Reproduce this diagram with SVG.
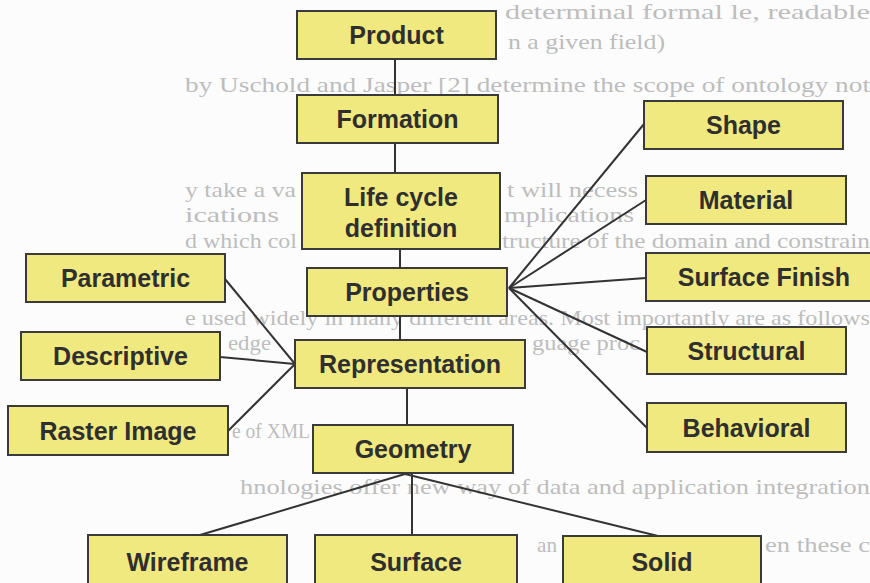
<svg xmlns="http://www.w3.org/2000/svg" width="870" height="583" viewBox="0 0 870 583">
  <style>
    .page { font-family: "Liberation Serif", "DejaVu Serif", serif; font-size: 21px; fill: #bdbdbd; }
    .box { fill: #f0e97f; stroke: #3a3a3a; stroke-width: 2; }
    .label { font-family: "Liberation Sans", Arial, sans-serif; font-weight: bold; font-size: 25px; fill: #2f2f2f; text-anchor: middle; }
    .link { stroke: #333333; stroke-width: 2; fill: none; }
  </style>

  <rect width="870" height="583" fill="#fcfcfc"/>

  <!-- printed page text showing between the chart boxes -->
  <g id="page-text" class="page" lengthAdjust="spacingAndGlyphs">
    <text x="505" y="19" textLength="365" lengthAdjust="spacingAndGlyphs">determinal formal le, readable</text>
    <text x="508" y="49" textLength="157" lengthAdjust="spacingAndGlyphs">n a given field)</text>
    <text x="185" y="92" textLength="685" lengthAdjust="spacingAndGlyphs">by Uschold and Jasper [2] determine the scope of ontology not</text>
    <text x="185" y="197" textLength="111" lengthAdjust="spacingAndGlyphs">y take a va</text>
    <text x="507" y="197" textLength="131" lengthAdjust="spacingAndGlyphs">t will necess</text>
    <text x="185" y="222" textLength="94" lengthAdjust="spacingAndGlyphs">ications</text>
    <text x="504" y="222" textLength="130" lengthAdjust="spacingAndGlyphs">mplications</text>
    <text x="185" y="248" textLength="112" lengthAdjust="spacingAndGlyphs">d which col</text>
    <text x="502" y="248" textLength="368" lengthAdjust="spacingAndGlyphs">tructure of the domain and constrain</text>
    <text x="185" y="325" textLength="685" lengthAdjust="spacingAndGlyphs">e used widely in many different areas. Most importantly are as follows</text>
    <text x="228" y="350" textLength="43" lengthAdjust="spacingAndGlyphs">edge</text>
    <text x="532" y="350" textLength="108" lengthAdjust="spacingAndGlyphs">guage proc</text>
    <text x="232" y="438" textLength="78" lengthAdjust="spacingAndGlyphs">e of XML</text>
    <text x="240" y="494" textLength="630" lengthAdjust="spacingAndGlyphs">hnologies offer new way of data and application integration</text>
    <text x="537" y="552" textLength="20" lengthAdjust="spacingAndGlyphs">an</text>
    <text x="765" y="552" textLength="105" lengthAdjust="spacingAndGlyphs">en these c</text>
  </g>

  <!-- connectors -->
  <g id="connectors" class="link">
    <line x1="395" y1="59" x2="395" y2="95"/>
    <line x1="395" y1="143" x2="395" y2="173"/>
    <line x1="400" y1="249" x2="400" y2="268"/>
    <line x1="400" y1="316" x2="400" y2="340"/>
    <line x1="407" y1="388" x2="407" y2="425"/>
    <!-- properties fan -->
    <line x1="509" y1="288" x2="644" y2="124"/>
    <line x1="509" y1="288" x2="646" y2="200"/>
    <line x1="509" y1="288" x2="646" y2="278"/>
    <line x1="509" y1="288" x2="647" y2="352"/>
    <line x1="509" y1="288" x2="647" y2="428"/>
    <!-- representation fan -->
    <line x1="295" y1="364" x2="225" y2="279"/>
    <line x1="295" y1="364" x2="220" y2="357"/>
    <line x1="295" y1="364" x2="228" y2="431"/>
    <!-- geometry fan -->
    <line x1="405" y1="474" x2="200" y2="535"/>
    <line x1="412" y1="473" x2="412" y2="535"/>
    <line x1="405" y1="474" x2="658" y2="536"/>
  </g>

  <g id="product"><rect class="box" x="297" y="11" width="199" height="48"/><text class="label" x="396.5" y="44">Product</text></g>
  <g id="formation"><rect class="box" x="297" y="95" width="201" height="48"/><text class="label" x="397.5" y="128">Formation</text></g>
  <g id="shape"><rect class="box" x="644" y="101" width="199" height="48"/><text class="label" x="743.5" y="134">Shape</text></g>
  <g id="life-cycle"><rect class="box" x="302" y="173" width="198" height="76"/><text class="label" x="401" y="206">Life cycle</text><text class="label" x="401" y="237">definition</text></g>
  <g id="material"><rect class="box" x="646" y="176" width="200" height="48"/><text class="label" x="746" y="209">Material</text></g>
  <g id="parametric"><rect class="box" x="26" y="254" width="199" height="48"/><text class="label" x="125.5" y="287">Parametric</text></g>
  <g id="properties"><rect class="box" x="307" y="268" width="200" height="48"/><text class="label" x="407" y="301">Properties</text></g>
  <g id="surface-finish"><rect class="box" x="646" y="253" width="234" height="48"/><text class="label" x="764" y="286">Surface Finish</text></g>
  <g id="descriptive"><rect class="box" x="21" y="332" width="199" height="48"/><text class="label" x="120.5" y="365">Descriptive</text></g>
  <g id="representation"><rect class="box" x="295" y="340" width="230" height="48"/><text class="label" x="410" y="373">Representation</text></g>
  <g id="structural"><rect class="box" x="647" y="327" width="199" height="47"/><text class="label" x="746.5" y="359.5">Structural</text></g>
  <g id="raster-image"><rect class="box" x="8" y="406" width="220" height="49"/><text class="label" x="118" y="439.5">Raster Image</text></g>
  <g id="geometry"><rect class="box" x="313" y="425" width="200" height="48"/><text class="label" x="413" y="458">Geometry</text></g>
  <g id="behavioral"><rect class="box" x="647" y="403" width="199" height="49"/><text class="label" x="746.5" y="436.5">Behavioral</text></g>
  <g id="wireframe"><rect class="box" x="88" y="535" width="199" height="60"/><text class="label" x="187.5" y="571">Wireframe</text></g>
  <g id="surface"><rect class="box" x="315" y="535" width="202" height="60"/><text class="label" x="416" y="571">Surface</text></g>
  <g id="solid"><rect class="box" x="563" y="536" width="198" height="60"/><text class="label" x="662" y="571">Solid</text></g>
</svg>
